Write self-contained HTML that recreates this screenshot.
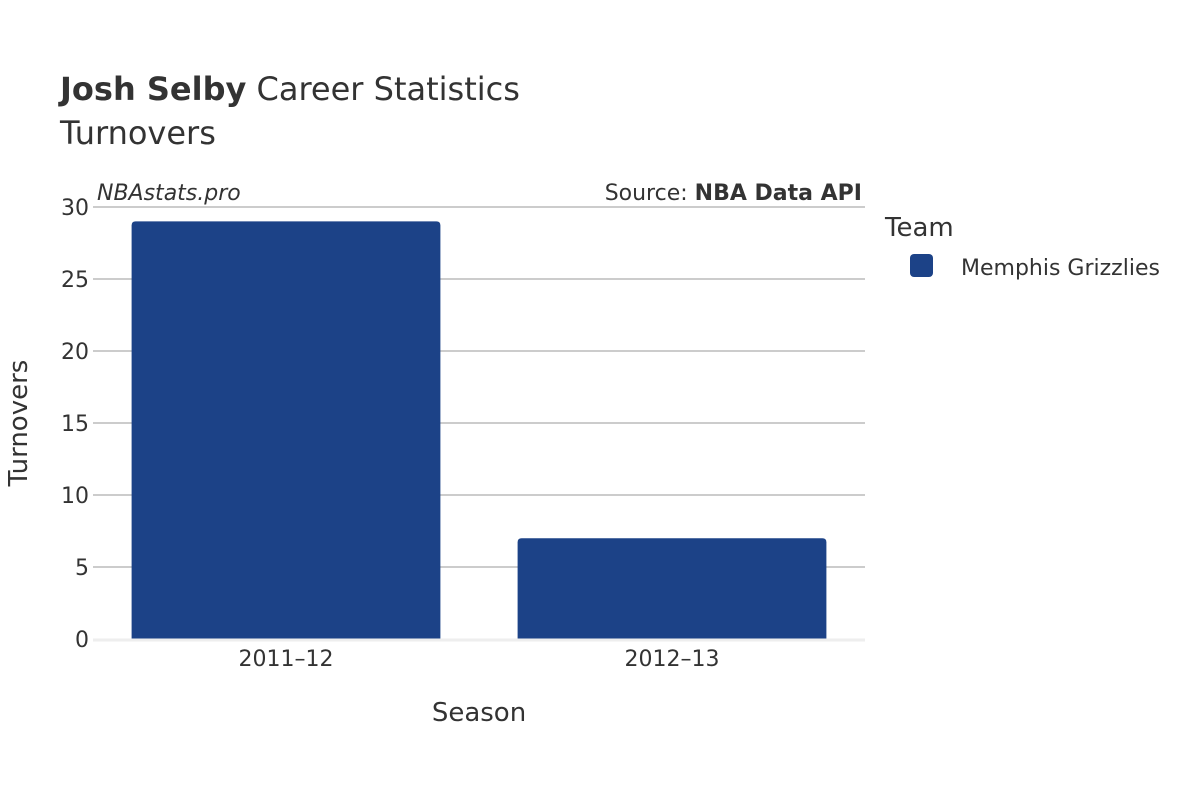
<!DOCTYPE html>
<html><head><meta charset="utf-8"><style>
html,body{margin:0;padding:0;background:#fff;}
svg text{font-family:"DejaVu Sans","Liberation Sans",sans-serif;fill:#333;}
</style></head><body>
<svg id="chart" width="1200" height="800" xmlns="http://www.w3.org/2000/svg">
<rect width="1200" height="800" fill="#fff"/>
<text x="60" y="100" font-size="32"><tspan font-weight="bold">Josh Selby</tspan> Career Statistics</text>
<text x="60" y="144" font-size="32">Turnovers</text>
<text x="97" y="200" font-size="22" font-style="italic">NBAstats.pro</text>
<text x="862" y="200" font-size="22" text-anchor="end">Source: <tspan font-weight="bold">NBA Data API</tspan></text>
<g id="grid"></g>
<g id="bars"></g>
<g id="yticks"></g>
<g id="xticks"></g>
<text x="479" y="721" font-size="26" text-anchor="middle">Season</text>
<text transform="translate(27,423) rotate(-90)" font-size="26" text-anchor="middle">Turnovers</text>
<text x="885" y="236" font-size="26">Team</text>
<g>
<rect x="910" y="254" width="23" height="23" rx="4" fill="#1c4287"/>
<text x="961" y="275" font-size="22">Memphis Grizzlies</text>
</g>
</svg>
<script>
const categories = ["2011–12", "2012–13"];
const values = [29, 7];
const yTicks = [0, 5, 10, 15, 20, 25, 30];
const NS = "http://www.w3.org/2000/svg";
const x0 = 93, x1 = 865, y0 = 639, yTop = 207, yMax = 30;
function yScale(v){ return y0 - (v / yMax) * (y0 - yTop); }
const band = (x1 - x0) / categories.length;
function xCenter(i){ return x0 + band * (i + 0.5); }
const grid = document.getElementById('grid');
const yt = document.getElementById('yticks');
yTicks.forEach(t => {
  const y = yScale(t);
  if (t !== 0) {
    const l = document.createElementNS(NS, 'line');
    
    
    l.setAttribute('x1', x0); l.setAttribute('x2', x1);
    l.setAttribute('y1', y); l.setAttribute('y2', y);
    l.setAttribute('stroke', '#999'); l.setAttribute('stroke-width', '1');
    grid.appendChild(l);
  }
  const tx = document.createElementNS(NS, 'text');
  
  
  tx.setAttribute('x', 89); tx.setAttribute('y', y + 8);
  tx.setAttribute('font-size', '22'); tx.setAttribute('text-anchor', 'end');
  tx.textContent = t;
  yt.appendChild(tx);
});
const barsG = document.getElementById('bars');
const bw = band * 0.8, r = 4;
values.forEach((v, i) => {
  const cx = xCenter(i), xl = cx - bw/2, xr = cx + bw/2, yv = yScale(v);
  const p = document.createElementNS(NS, 'path');
  
  
  p.setAttribute('d', `M${xl},${y0} L${xl},${yv+r} Q${xl},${yv} ${xl+r},${yv} L${xr-r},${yv} Q${xr},${yv} ${xr},${yv+r} L${xr},${y0} Z`);
  p.setAttribute('fill', '#1c4287');
  barsG.appendChild(p);
});
const zl = document.createElementNS(NS, 'line');


zl.setAttribute('x1', x0); zl.setAttribute('x2', x1);
zl.setAttribute('y1', y0 + 1); zl.setAttribute('y2', y0 + 1);
zl.setAttribute('stroke', '#eee'); zl.setAttribute('stroke-width', '3');
barsG.appendChild(zl);
const xt = document.getElementById('xticks');
categories.forEach((c, i) => {
  const tx = document.createElementNS(NS, 'text');
  
  
  tx.setAttribute('x', xCenter(i)); tx.setAttribute('y', 666);
  tx.setAttribute('font-size', '22'); tx.setAttribute('text-anchor', 'middle');
  tx.textContent = c;
  xt.appendChild(tx);
});
</script>
</body></html>
